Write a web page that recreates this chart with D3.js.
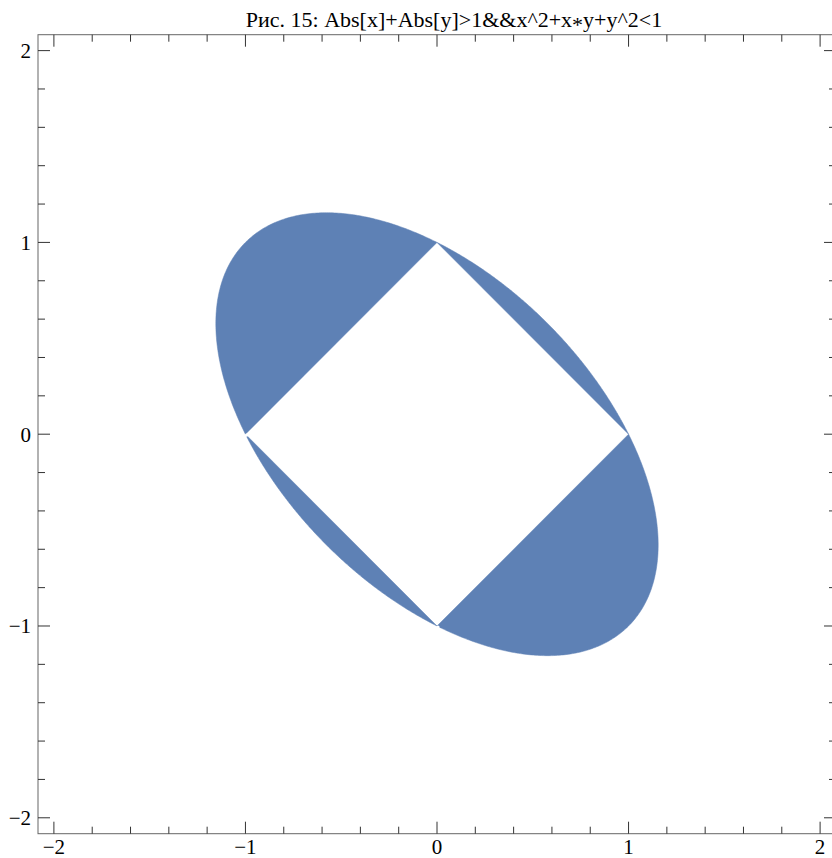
<!DOCTYPE html>
<html>
<head>
<meta charset="utf-8">
<script src="https://cdn.jsdelivr.net/npm/d3@7"></script>
<style>
  body { margin: 0; background: #fff; }
  svg { display: block; font-family: "Liberation Serif", "Times New Roman", serif; }
</style>
</head>
<body>
<svg id="chart" width="832" height="858"></svg>
<script>
// Region: Abs[x]+Abs[y] > 1 && x^2 + x*y + y^2 < 1
const titleParts = ["Рис. 15: Abs[x]+Abs[y]>1&&x^2+x", "*", "y+y^2<1"];
const ellipseCoeffs = [1, 1, 1];       // a*x^2 + b*x*y + c*y^2 < 1
const diamondRadius = 1;               // |x| + |y| > 1
const plotRange = [-2.083, 2.083];
const majorTicks = [-2, -1, 0, 1, 2];
const tickLabels = ["\u22122", "\u22121", "0", "1", "2"];
const minorTicks = d3.range(-20, 21, 2).map(d => d / 10).filter(d => !majorTicks.includes(d));

const svg = d3.select("#chart");
const frameL = 38, frameR = 836, frameT = 34.7, frameB = 833.7;
const x = d3.scaleLinear().domain(plotRange).range([frameL, frameR]);
const y = d3.scaleLinear().domain(plotRange).range([frameB, frameT]);

// Ellipse boundary in rotated coords u=(x+y)/√2, v=(x−y)/√2:
// (a + b/2) u^2 + (c − b/2) v^2 = 1  (a = c)
const [A, B, C] = ellipseCoeffs;
const su = Math.sqrt(1 / (A + B / 2)), sv = Math.sqrt(1 / (C - B / 2));
function ellipsePoint(t) {
  const u = su * Math.cos(t), v = sv * Math.sin(t);
  return [(u + v) / Math.SQRT2, (u - v) / Math.SQRT2];
}
// Parameter angle of a point lying on the ellipse
function angleOf(px, py) {
  const u = (px + py) / Math.SQRT2, v = (px - py) / Math.SQRT2;
  return Math.atan2(v / sv, u / su);
}
// Diamond vertices all lie on the ellipse; each piece is an arc between two of them
const vertices = [[diamondRadius, 0], [0, -diamondRadius], [-diamondRadius, 0], [0, diamondRadius]];
const pieces = [];
for (let i = 0; i < 4; i++) {
  const p0 = vertices[i], p1 = vertices[(i + 1) % 4];
  let t0 = angleOf(p0[0], p0[1]), t1 = angleOf(p1[0], p1[1]);
  while (t1 <= t0) t1 += 2 * Math.PI;
  const n = 200;
  pieces.push(d3.range(n + 1).map(k => ellipsePoint(t0 + (t1 - t0) * k / n)));
}

const line = d3.line().x(d => x(d[0])).y(d => y(d[1]));
svg.append("g").selectAll("path").data(pieces).join("path")
  .attr("d", d => line(d) + "Z")
  .attr("fill", "#5e81b5")
  .attr("stroke", "#5e81b5")
  .attr("stroke-width", 0.5);

// Small sampling gaps where the thin lower-left sliver meets its neighbours
const gapPoints = [[-diamondRadius, 0], [0, -diamondRadius]];
svg.append("g").selectAll("circle").data(gapPoints).join("circle")
  .attr("cx", d => x(d[0]) + 1).attr("cy", d => y(d[1]) + 1)
  .attr("r", 1.6).attr("fill", "#fff");

// Frame
svg.append("rect")
  .attr("x", frameL).attr("y", frameT)
  .attr("width", frameR - frameL).attr("height", frameB - frameT)
  .attr("fill", "none").attr("stroke", "#666").attr("stroke-width", 1);

const tickG = svg.append("g").attr("stroke", "#333").attr("stroke-width", 1);
function drawTicks(vals, len) {
  vals.forEach(v => {
    const px = x(v), py = y(v);
    tickG.append("line").attr("x1", px).attr("x2", px).attr("y1", frameB).attr("y2", frameB - len);
    tickG.append("line").attr("x1", px).attr("x2", px).attr("y1", frameT).attr("y2", frameT + len);
    tickG.append("line").attr("y1", py).attr("y2", py).attr("x1", frameL).attr("x2", frameL + len);
    tickG.append("line").attr("y1", py).attr("y2", py).attr("x1", frameR).attr("x2", frameR - len);
  });
}
drawTicks(majorTicks, 12);
drawTicks(minorTicks, 7);

// Tick labels
svg.append("g").selectAll("text").data(majorTicks).join("text")
  .attr("x", d => x(d)).attr("y", 854)
  .attr("text-anchor", "middle").attr("font-size", 21).attr("fill", "#000")
  .text((d, i) => tickLabels[i]);
svg.append("g").selectAll("text").data(majorTicks).join("text")
  .attr("x", 31).attr("y", d => y(d) + 7.5)
  .attr("text-anchor", "end").attr("font-size", 21).attr("fill", "#000")
  .text((d, i) => tickLabels[i]);

// Title, with the multiplication star lowered to the middle of the line
const title = svg.append("text")
  .attr("x", 454).attr("y", 27)
  .attr("text-anchor", "middle").attr("font-size", 22).attr("fill", "#000");
title.append("tspan").text(titleParts[0]);
title.append("tspan").attr("dy", 5).text(titleParts[1]);
title.append("tspan").attr("dy", -5).text(titleParts[2]);
</script>
</body>
</html>
